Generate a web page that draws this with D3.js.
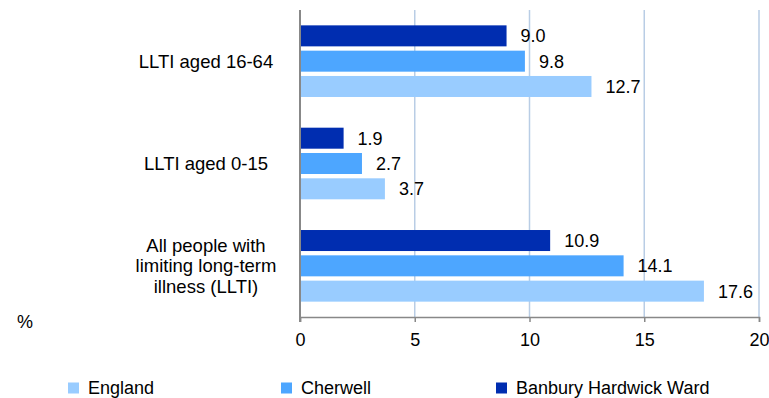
<!DOCTYPE html>
<html>
<head>
<meta charset="utf-8">
<script src="https://cdn.jsdelivr.net/npm/d3@7/dist/d3.min.js"></script>
<style>
  html, body { margin: 0; padding: 0; background: #fff; }
  svg { display: block; }
  text { font-family: "Liberation Sans", Arial, sans-serif; fill: #000; }
</style>
</head>
<body>
<svg id="chart" width="769" height="398"></svg>
<script>
// ---- data ----
const categories = [
  ["LLTI aged 16-64"],
  ["LLTI aged 0-15"],
  ["All people with", "limiting long-term", "illness (LLTI)"]
];
const seriesNames = ["Banbury Hardwick Ward", "Cherwell", "England"];
const banbury = [9.0, 1.9, 10.9];
const cherwell = [9.8, 2.7, 14.1];
const england = [12.7, 3.7, 17.6];
const xTicks = [0, 5, 10, 15, 20];
const legendOrder = ["England", "Cherwell", "Banbury Hardwick Ward"];
const colors = { "Banbury Hardwick Ward": "#002DB0", "Cherwell": "#4DA6FF", "England": "#99CCFF" };

const seriesValues = { "Banbury Hardwick Ward": banbury, "Cherwell": cherwell, "England": england };

// ---- layout ----
const svg = d3.select("#chart");
const x0 = 300, x1 = 759, yTop = 10, yBot = 317;

const x = d3.scaleLinear().domain([0, 20]).range([x0, x1]);
const y = d3.scaleBand().domain(d3.range(categories.length)).range([yTop, yBot])
  .paddingInner(0.3).paddingOuter(0.15);
const yInner = d3.scaleBand().domain(seriesNames).range([0, y.bandwidth()])
  .paddingInner(0.17).paddingOuter(0);

// gridlines
svg.append("g").selectAll("line").data(xTicks.filter(d => d > 0)).join("line")
  .attr("x1", d => x(d)).attr("x2", d => x(d))
  .attr("y1", yTop).attr("y2", yBot)
  .attr("stroke", "#B9CDE5").attr("stroke-width", 1.5);

// bars
const groups = svg.append("g").selectAll("g").data(categories).join("g")
  .attr("transform", (d, i) => `translate(0,${y(i)})`);

groups.each(function(cat, i) {
  const g = d3.select(this);
  seriesNames.forEach(s => {
    const v = seriesValues[s][i];
    g.append("rect")
      .attr("x", x(0)).attr("y", yInner(s))
      .attr("width", x(v) - x(0)).attr("height", yInner.bandwidth())
      .attr("fill", colors[s]);
    g.append("text")
      .attr("x", x(v) + 14).attr("y", yInner(s) + yInner.bandwidth() / 2)
      .attr("dy", "0.36em")
      .style("font-size", "18px")
      .text(v.toFixed(1));
  });
});

// axes
const xAxis = d3.axisBottom(x).tickValues(xTicks).tickSize(5).tickPadding(11).tickFormat(d3.format("d"));
const ax = svg.append("g").attr("transform", `translate(0,${yBot})`).call(xAxis);
ax.select(".domain").attr("stroke", "#888").attr("stroke-width", 1.5);
ax.selectAll(".tick line").attr("stroke", "#888").attr("stroke-width", 1.5);
ax.selectAll(".tick text").style("font-size", "18px").style("font-family", "Liberation Sans, Arial, sans-serif").attr("fill", "#000");

svg.append("line").attr("x1", x0).attr("x2", x0).attr("y1", yTop).attr("y2", yBot + 5)
  .attr("stroke", "#888").attr("stroke-width", 2);

// category labels
const lineH = 20.5;
svg.append("g").selectAll("text").data(categories).join("text")
  .attr("text-anchor", "middle")
  .style("font-size", "18.5px")
  .each(function(lines, i) {
    const t = d3.select(this);
    const cy = y(i) + y.bandwidth() / 2;
    lines.forEach((ln, k) => {
      t.append("tspan").attr("x", 206)
        .attr("y", cy + (k - (lines.length - 1) / 2) * lineH)
        .attr("dy", "0.36em").text(ln);
    });
  });

// % label
svg.append("text").attr("x", 17).attr("y", 328).style("font-size", "18px").text("%");

// legend
const legX = [68, 281, 496];
const leg = svg.append("g").selectAll("g").data(legendOrder).join("g")
  .attr("transform", (d, i) => `translate(${legX[i]},382.5)`);
leg.append("rect").attr("width", 11).attr("height", 11).attr("fill", d => colors[d]);
leg.append("text").attr("x", 20).attr("y", 11.5)
  .style("font-size", "18px").text(d => d);
</script>
</body>
</html>
